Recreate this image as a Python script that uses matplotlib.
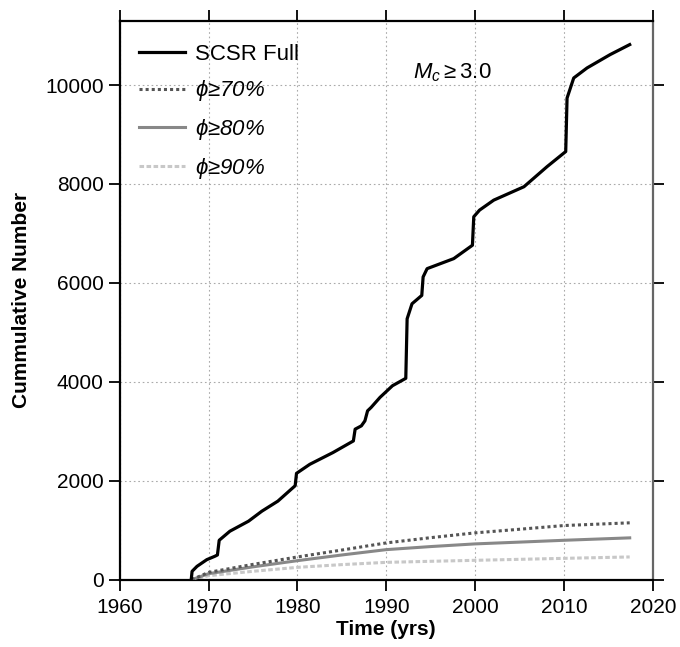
import matplotlib
matplotlib.use("Agg")
import matplotlib.pyplot as plt

plt.rcParams['font.family'] = ['Liberation Sans', 'DejaVu Sans']
plt.rcParams['mathtext.fontset'] = 'custom'
plt.rcParams['mathtext.rm'] = 'Liberation Sans'
plt.rcParams['mathtext.it'] = 'Liberation Sans:italic'

# SCSR Full cumulative number
full_years = [1968.05, 1968.15, 1968.7, 1969.8, 1970.7, 1971.0, 1971.2, 1972.4, 1974.5,
              1976.0, 1977.8, 1979.5, 1979.75, 1979.9, 1981.4, 1984.0, 1986.3, 1986.5,
              1987.2, 1987.6, 1987.9, 1988.3, 1989.3, 1990.7, 1992.2, 1992.35, 1992.9,
              1994.0, 1994.15, 1994.6, 1997.6, 1999.7, 1999.85, 2000.5, 2002.1, 2005.5,
              2008.1, 2010.2, 2010.35, 2011.1, 2012.6, 2015.2, 2017.4]
full_counts = [0, 170, 270, 405, 473, 500, 797, 980, 1183,
               1385, 1588, 1860, 1900, 2150, 2333, 2570, 2805, 3043,
               3110, 3211, 3414, 3483, 3686, 3921, 4071, 5274, 5578,
               5747, 6120, 6288, 6491, 6761, 7337, 7471, 7673, 7944,
               8350, 8655, 9736, 10142, 10345, 10615, 10817]

# Probability-filtered series
phi_years = [1968.1, 1970, 1975, 1980, 1985, 1990, 1995, 2000, 2005, 2010, 2017.4]
phi70 = [0, 148, 310, 460, 600, 744, 850, 947, 1020, 1095, 1150]
phi80 = [0, 122, 260, 385, 500, 608, 670, 724, 760, 797, 846]
phi90 = [0, 81, 170, 250, 305, 351, 372, 392, 412, 432, 460]

xticks = [1960, 1970, 1980, 1990, 2000, 2010, 2020]
yticks = [0, 2000, 4000, 6000, 8000, 10000]

fig = plt.figure(figsize=(6.8, 6.47), dpi=100)
ax = fig.add_axes([0.176, 0.104, 0.784, 0.864])

ax.plot(full_years, full_counts, color='black', lw=2.3, label='SCSR Full', zorder=5)
ax.plot(phi_years, phi70, color='#555555', lw=2.2, linestyle=(0, (1, 1)),
        label=r'$\phi$≥70%', zorder=4)
ax.plot(phi_years, phi80, color='#888888', lw=2.2, label=r'$\phi$≥80%', zorder=3)
ax.plot(phi_years, phi90, color='#c8c8c8', lw=2.2, linestyle=(0, (1.5, 0.8)),
        label=r'$\phi$≥90%', zorder=2)

ax.set_xlim(1960, 2020)
ax.set_ylim(0, 11300)
ax.set_xticks(xticks)
ax.set_yticks(yticks)
ax.tick_params(axis='both', which='both', direction='out', length=8, width=1.3,
               labelsize=15, top=True, right=True, labeltop=False, labelright=False)
ax.tick_params(axis='x', pad=5)
ax.grid(True, color='#aaaaaa', linestyle=(0, (1.5, 2.5)), linewidth=0.8)

for s in ['left', 'bottom', 'top']:
    ax.spines[s].set_linewidth(1.6)
    ax.spines[s].set_color('black')
ax.spines['right'].set_linewidth(1.6)
ax.spines['right'].set_color('#666666')

ax.set_xlabel('Time (yrs)', fontsize=15, fontweight='bold', labelpad=2)
ax.set_ylabel('Cummulative Number', fontsize=15, fontweight='bold', labelpad=10)

leg = ax.legend(loc='upper left', frameon=False, fontsize=16, handlelength=2.1,
                labelspacing=0.62, handletextpad=0.45, borderaxespad=0.0,
                bbox_to_anchor=(0.019, 0.975))
for t in leg.get_texts()[1:]:
    t.set_fontstyle('italic')

ax.text(1993.0, 10250, r'$M_c \geq 3.0$', fontsize=16, ha='left', va='center')

fig.savefig('out.png', dpi=100)
